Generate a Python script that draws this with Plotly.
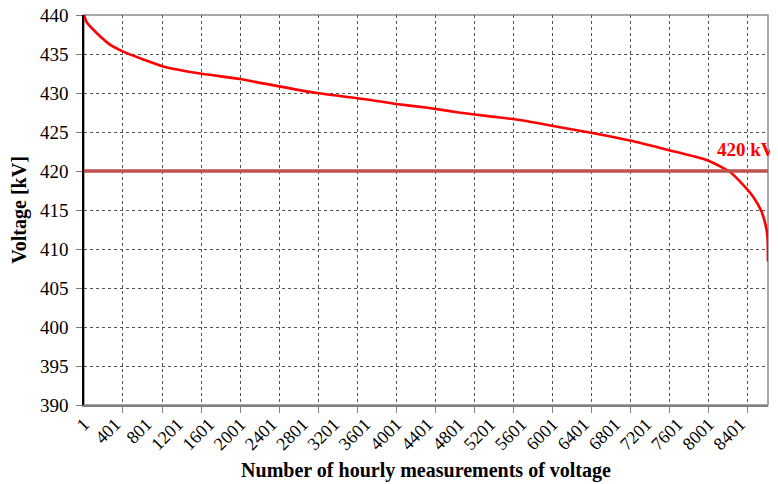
import plotly.graph_objects as go

# Data (voltage duration curve)
hour_index = [1, 40, 163, 334, 504, 760, 1016, 1486, 1998, 2254, 2985, 3601, 4001, 4401,
              4801, 5201, 5601, 6096, 6493, 6993, 7479, 7974, 8270, 8462, 8570, 8677,
              8741, 8755, 8760]
voltage_kv = [440.0, 439.0, 437.7, 436.2, 435.3, 434.3, 433.4, 432.5, 431.8, 431.3, 430.0,
              429.2, 428.6, 428.1, 427.5, 427.0, 426.5, 425.6, 424.9, 423.9, 422.7, 421.4,
              419.9, 418.0, 416.7, 414.8, 412.5, 411.2, 408.4]
threshold_kv = 420
x_tick_vals = list(range(1, 8402, 400))
x_tick_text = [str(v) for v in x_tick_vals]
y_tick_vals = list(range(390, 441, 5))

FONT = "Liberation Serif"

fig = go.Figure()
fig.add_trace(go.Scatter(x=hour_index, y=voltage_kv, mode="lines",
                         line=dict(color="#FF0000", width=2.6, shape="spline", smoothing=0.6),
                         showlegend=False, hoverinfo="skip", cliponaxis=False))
fig.add_hline(y=threshold_kv, line=dict(color="#C0504D", width=3.5))

fig.add_annotation(x=1.013, y=422.8, xref="paper", yref="y", xanchor="right",
                   text="<b>420 kV</b>", showarrow=False,
                   font=dict(family=FONT, size=19, color="#FF0000"))

fig.add_shape(type="rect", xref="paper", yref="paper", x0=0, y0=0, x1=1, y1=1,
              line=dict(color="#8c8c8c", width=1.5), layer="below")

# The page body has an 8px default margin, so the figure is sized/offset to compensate.
fig.update_layout(
    width=770, height=476,
    margin=dict(l=76, r=10, t=7, b=79),
    paper_bgcolor="white", plot_bgcolor="white",
    font=dict(family=FONT, color="black", size=18),
    xaxis=dict(range=[1, 8760], tickmode="array", tickvals=x_tick_vals, ticktext=x_tick_text,
               tickangle=-45, tickfont=dict(size=18), showgrid=False, ticks="",
               showline=True, linecolor="#7f7f7f", linewidth=1.5, zeroline=False,
               automargin=False, ticklabeloverflow="allow",
               minor=dict(tick0=0, dtick=500, showgrid=True, gridcolor="#555555",
                          griddash="dot", gridwidth=1, ticks="outside", ticklen=6,
                          tickcolor="#7f7f7f"),
               title=dict(text="<b>Number of hourly measurements of voltage</b>",
                          font=dict(size=20), standoff=10)),
    yaxis=dict(range=[390, 440], tickmode="array", tickvals=y_tick_vals,
               tickfont=dict(size=19), showgrid=True, gridcolor="#555555",
               griddash="dot", gridwidth=1, ticks="outside", ticklen=6, tickcolor="#7f7f7f",
               ticklabelstandoff=4, ticklabeloverflow="allow",
               showline=True, linecolor="black", linewidth=1.5, zeroline=False,
               automargin=False,
               title=dict(text="<b>Voltage [kV]</b>", font=dict(size=20), standoff=8)),
)

fig.write_html("out.html")
